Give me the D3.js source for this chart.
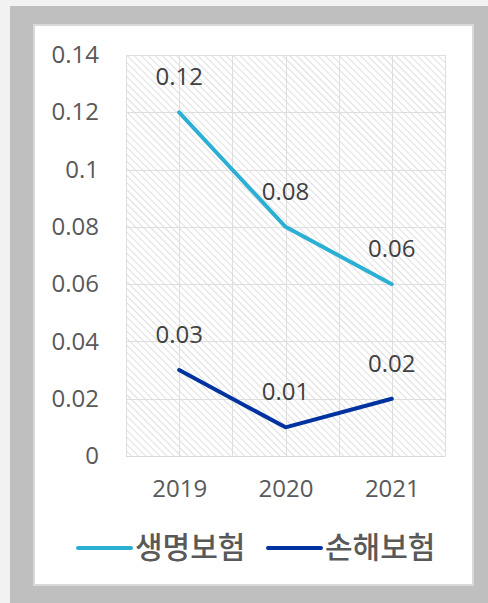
<!DOCTYPE html>
<html>
<head>
<meta charset="utf-8">
<script src="https://cdn.jsdelivr.net/npm/d3@7"></script>
<style>
  body { margin: 0; background: #f2f2f2; }
  svg { display: block; }
</style>
</head>
<body>
<svg id="chart" width="488" height="603"></svg>
<script>
// chart data
const years = ['2019', '2020', '2021'];
const lifeIns = [0.12, 0.08, 0.06];     // 생명보험
const nonLifeIns = [0.03, 0.01, 0.02];  // 손해보험
const yTicks = [0, 0.02, 0.04, 0.06, 0.08, 0.1, 0.12, 0.14];
const seriesNames = ['생명보험', '손해보험'];
const seriesColors = ['#2bb0d4', '#0033a0'];

const svg = d3.select('#chart');

// outer frame + white panel
svg.append('rect').attr('x', 10).attr('y', 6).attr('width', 478).attr('height', 597).attr('fill', '#bfbfbf');
svg.append('rect').attr('x', 34).attr('y', 25).attr('width', 439).attr('height', 560)
  .attr('fill', '#fff').attr('stroke', '#d9d9d9').attr('stroke-width', 2);

const plot = { left: 126, right: 445, top: 55, bottom: 456 };

const x = d3.scalePoint().domain(years).range([plot.left, plot.right]).padding(0.5);
const y = d3.scaleLinear().domain([0, 0.14]).range([plot.bottom, plot.top]);

// hatch pattern
const defs = svg.append('defs');
const pat = defs.append('pattern')
  .attr('id', 'hatch')
  .attr('patternUnits', 'userSpaceOnUse')
  .attr('width', 5).attr('height', 5)
  .attr('patternTransform', 'rotate(-45)');
pat.append('rect').attr('width', 5).attr('height', 5).attr('fill', '#fff');
pat.append('line').attr('x1', 0).attr('y1', 0).attr('x2', 0).attr('y2', 5)
  .attr('stroke', '#dcdcdc').attr('stroke-width', 1.8);

svg.append('rect')
  .attr('x', plot.left).attr('y', plot.top)
  .attr('width', plot.right - plot.left).attr('height', plot.bottom - plot.top)
  .attr('fill', 'url(#hatch)');

// gridlines
const grid = svg.append('g').attr('stroke', '#dedede').attr('stroke-width', 1);
grid.selectAll('line.h').data(yTicks).join('line')
  .attr('x1', plot.left).attr('x2', plot.right)
  .attr('y1', d => Math.round(y(d)) + 0.5).attr('y2', d => Math.round(y(d)) + 0.5);
const step = x.step();
const vLines = [];
years.forEach(yr => { vLines.push(x(yr) - step / 2, x(yr)); });
vLines.push(plot.right);
grid.selectAll('line.v').data(vLines).join('line')
  .attr('y1', plot.top).attr('y2', plot.bottom)
  .attr('x1', d => Math.round(d) + 0.5).attr('x2', d => Math.round(d) + 0.5);

// y axis
const yAxis = svg.append('g')
  .attr('transform', `translate(${plot.left},0)`)
  .call(d3.axisLeft(y).tickValues(yTicks).tickSize(0).tickPadding(27).tickFormat(d => String(+d.toFixed(2))));
yAxis.select('.domain').remove();
yAxis.selectAll('text')
  .attr('fill', '#595959').style('font-family', '"Open Sans", sans-serif').style('font-size', '24px');

// x axis
const xAxis = svg.append('g')
  .attr('transform', `translate(0,${plot.bottom})`)
  .call(d3.axisBottom(x).tickSize(0).tickPadding(24));
xAxis.select('.domain').attr('stroke', '#d9d9d9');
xAxis.selectAll('text')
  .attr('fill', '#595959').style('font-family', '"Open Sans", sans-serif').style('font-size', '24px');

// lines + value labels
const line = d3.line().x((d, i) => x(years[i])).y(d => y(d));
[lifeIns, nonLifeIns].forEach((vals, s) => {
  svg.append('path').datum(vals)
    .attr('d', line).attr('fill', 'none')
    .attr('stroke', seriesColors[s]).attr('stroke-width', 4)
    .attr('stroke-linejoin', 'round').attr('stroke-linecap', 'round');
  svg.append('g').selectAll('text').data(vals).join('text')
    .attr('x', (d, i) => x(years[i]))
    .attr('y', d => y(d) - 27)
    .attr('text-anchor', 'middle')
    .attr('fill', '#404040')
    .style('font-family', '"Open Sans", sans-serif').style('font-size', '24px')
    .text(d => d3.format('.2f')(d));
});

// legend
const legend = [
  { name: seriesNames[0], color: seriesColors[0], x: 78 },
  { name: seriesNames[1], color: seriesColors[1], x: 268 }
];
const lg = svg.append('g');
legend.forEach(l => {
  lg.append('line').attr('x1', l.x).attr('x2', l.x + 53).attr('y1', 548).attr('y2', 548)
    .attr('stroke', l.color).attr('stroke-width', 4).attr('stroke-linecap', 'round');
  lg.append('text').attr('x', l.x + 57).attr('y', 558)
    .attr('fill', '#595959')
    .style('font-family', '"Noto Sans CJK KR", sans-serif').style('font-size', '30px').style('font-weight', 500)
    .text(l.name);
});
</script>
</body>
</html>
